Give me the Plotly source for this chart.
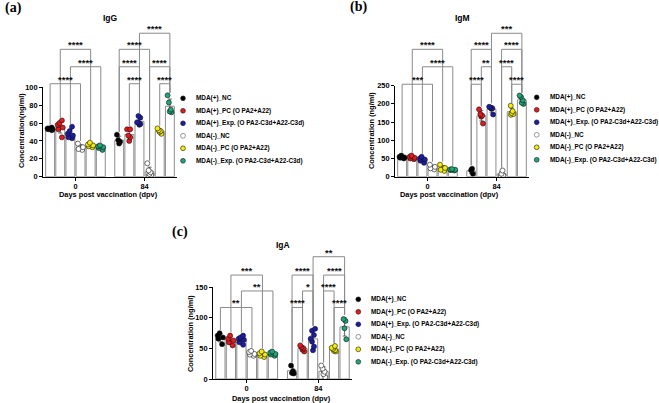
import numpy as np
import plotly.graph_objects as go

W, H = 659, 403

# ---------------- data ----------------
days = ["0", "84"]
group_names = [
    "MDA(+)_NC",
    "MDA(+)_PC (O PA2+A22)",
    "MDA(+)_Exp. (O PA2-C3d+A22-C3d)",
    "MDA(-)_NC",
    "MDA(-)_PC (O PA2+A22)",
    "MDA(-)_Exp. (O PA2-C3d+A22-C3d)",
]
group_colors = ["#000000", "#e8191c", "#1c1ca8", "#ffffff", "#f5ee00", "#1fa67a"]

# individual animals, one list per group (ng/ml)
igg_day0 = [
    [52, 53, 54, 55, 53, 54],
    [63, 60, 58, 55, 53, 44],
    [56, 51, 48, 46, 44, 43],
    [37, 33, 31, 30],
    [38, 36, 35, 34, 33],
    [35, 34, 33, 32, 30],
]
igg_day84 = [
    [47, 41, 39, 37],
    [53, 53, 46, 44, 40],
    [68, 66, 61, 60, 58, 59],
    [15, 7, 5, 3, 2, 1],
    [54, 52, 51, 50, 48],
    [91, 83, 75, 72, 73],
]
igm_day0 = [
    [58, 55, 53, 50, 52],
    [58, 55, 52, 48, 50],
    [55, 50, 47, 44, 38],
    [33, 27, 23, 20],
    [33, 24, 19, 16],
    [21, 19, 18, 17, 20],
]
igm_day84 = [
    [22, 18, 8],
    [185, 172, 168, 165, 146],
    [192, 190, 188, 187, 171],
    [17, 8, 4, 2],
    [195, 180, 175, 172, 170],
    [223, 219, 210, 203, 200],
]
iga_day0 = [
    [75, 71, 68, 66, 57],
    [71, 66, 63, 60, 55],
    [71, 68, 66, 64, 60, 56],
    [46, 44, 40, 38, 41],
    [45, 42, 40, 38, 36],
    [45, 43, 41, 38, 40],
]
iga_day84 = [
    [22, 13, 10, 9],
    [55, 52, 50, 48, 45],
    [82, 79, 72, 66, 61, 53, 47],
    [22, 17, 12, 8, 3],
    [54, 51, 49, 47, 45, 46],
    [98, 95, 83, 65],
]

igg_ticks = [0, 20, 40, 60, 80, 100]
igm_ticks = [0, 50, 100, 150, 200, 250]
iga_ticks = [0, 50, 100, 150]

# significance brackets: (day, group i, group j, level, label)
igg_brackets = [
    ("0", 0, 3, 104, "****"), ("0", 1, 4, 142.5, "****"), ("0", 2, 5, 123, "****"),
    ("84", 0, 3, 142.5, "****"), ("84", 0, 2, 123, "****"), ("84", 1, 2, 104, "****"),
    ("84", 3, 5, 123, "****"), ("84", 4, 5, 104, "****"), ("84", 2, 5, 160.5, "****"),
]
igm_brackets = [
    ("0", 0, 3, 254, "***"), ("0", 1, 4, 350, "****"), ("0", 2, 5, 302, "****"),
    ("84", 0, 1, 254, "****"), ("84", 1, 2, 302, "**"), ("84", 0, 2, 350, "****"),
    ("84", 3, 4, 302, "****"), ("84", 4, 5, 254, "****"), ("84", 3, 5, 350, "****"),
    ("84", 2, 5, 394, "***"),
]
iga_brackets = [
    ("0", 0, 3, 117, "**"), ("0", 1, 4, 170, "***"), ("0", 2, 5, 144, "**"),
    ("84", 0, 1, 117, "****"), ("84", 1, 2, 144, "*"), ("84", 0, 2, 170, "****"),
    ("84", 3, 4, 144, "****"), ("84", 4, 5, 117, "****"), ("84", 3, 5, 170, "****"),
    ("84", 2, 5, 200, "**"),
]

# ---------------- styling / layout ----------------
FONT = "Liberation Sans"
BARGAP = 0.12
GROUPGAP = 0.12
SLOT = (1 - BARGAP) / len(group_names)
XRANGE = [-0.47, 1.47]
BRACKET_COLOR = "#8a8a8a"
ROW = 12.5


def PX(x):
    return x / W


def PY(y):
    return 1 - y / H


panels = [
    dict(title="IgG", label="(a)", d0=igg_day0, d84=igg_day84, br=igg_brackets, ticks=igg_ticks,
         ytitle="Concentration(ng/ml)", xpx=(43, 177), ypx=(176.7, 87.3), top=170, gap=3,
         label_xy=(13, 8), title_xy=(110, 18), leg=(183, 194, 98.3),
         xt_xy=(108, 194), yt_xy=(21, 131)),
    dict(title="IgM", label="(b)", d0=igm_day0, d84=igm_day84, br=igm_brackets, ticks=igm_ticks,
         ytitle="Concentration (ng/ml)", xpx=(395, 529), ypx=(176.7, 85.7), top=420, gap=8,
         label_xy=(358.7, 7), title_xy=(462, 18), leg=(536.7, 548.3, 97.3),
         xt_xy=(449, 194), yt_xy=(371, 131)),
    dict(title="IgA", label="(c)", d0=iga_day0, d84=iga_day84, br=iga_brackets, ticks=iga_ticks,
         ytitle="Concentration (ng/ml)", xpx=(213, 352), ypx=(379, 287.3), top=215, gap=5,
         label_xy=(180, 232), title_xy=(282.5, 245), leg=(358.3, 369, 299.3),
         xt_xy=(281, 398.5), yt_xy=(190, 334)),
]


def sfx(n):
    return "" if n == 1 else str(n)


def tfont(size, bold=True, family=FONT, color="black"):
    d = dict(family=family, size=size, color=color)
    if bold:
        d["weight"] = "bold"
    return d


fig = go.Figure()
shapes, annotations = [], []
layout_axes = {}

for k, p in enumerate(panels, start=1):
    m, b = k, k + 3
    xa, ya = "x" + sfx(m), "y" + sfx(m)
    bxa, bya = "x" + sfx(b), "y" + sfx(b)
    per_day = {"0": p["d0"], "84": p["d84"]}
    agroup = f"panel{k}"

    for i, name in enumerate(group_names):
        pts = [p["d0"][i], p["d84"][i]]
        means = [float(np.mean(v)) for v in pts]
        sds = [float(np.std(v, ddof=1)) for v in pts]
        fig.add_trace(go.Bar(
            x=days, y=means, name=name, xaxis=xa, yaxis=ya, showlegend=False,
            offsetgroup=str(i), alignmentgroup=agroup,
            marker=dict(color="white", line=dict(color="#8c8c8c", width=1)),
            error_y=dict(type="data", array=sds, color="#444444", thickness=0.8, width=2),
        ))
    for i, (name, color) in enumerate(zip(group_names, group_colors)):
        xs = [days[0]] * len(p["d0"][i]) + [days[1]] * len(p["d84"][i])
        ys = list(p["d0"][i]) + list(p["d84"][i])
        fig.add_trace(go.Box(
            x=xs, y=ys, name=name, xaxis=xa, yaxis=ya, showlegend=False,
            offsetgroup=str(i), alignmentgroup=agroup,
            boxpoints="all", jitter=0.7, pointpos=0,
            fillcolor="rgba(0,0,0,0)", line=dict(width=0, color="rgba(0,0,0,0)"),
            marker=dict(color=color, size=5, line=dict(color="#111111", width=0.6)),
            hoverinfo="y",
        ))
    fig.add_trace(go.Scatter(x=[], y=[], xaxis=bxa, yaxis=bya, showlegend=False, hoverinfo="skip"))

    xd = [PX(p["xpx"][0]), PX(p["xpx"][1])]
    yd = [PY(p["ypx"][0]), PY(p["ypx"][1])]
    ymax = p["ticks"][-1]
    byd = [yd[0], yd[0] + (yd[1] - yd[0]) * p["top"] / ymax]

    layout_axes["xaxis" + sfx(m)] = dict(
        domain=xd, anchor=ya, type="category", categoryorder="array", categoryarray=days,
        range=XRANGE, showline=True, linecolor="black", linewidth=1, ticks="outside",
        ticklen=3, tickwidth=1, tickcolor="black", tickfont=tfont(7.4), showgrid=False,
        zeroline=False, automargin=False, fixedrange=True, ticklabelstandoff=-1,
    )
    layout_axes["yaxis" + sfx(m)] = dict(
        domain=yd, anchor=xa, range=[0, ymax], tickvals=p["ticks"], showline=True,
        linecolor="black", linewidth=1, ticks="outside", ticklen=3, tickwidth=1,
        tickcolor="black", tickfont=tfont(7.4), showgrid=False, zeroline=False,
        automargin=False, fixedrange=True,
    )
    layout_axes["xaxis" + sfx(b)] = dict(domain=xd, anchor=bya, range=XRANGE, visible=False,
                                         type="linear", fixedrange=True)
    layout_axes["yaxis" + sfx(b)] = dict(domain=byd, anchor=bxa, range=[0, p["top"]], visible=False,
                                         type="linear", fixedrange=True)

    # brackets
    for day, i, j, level, lab in p["br"]:
        di = days.index(day)
        x1 = di + (i - 2.5) * SLOT
        x2 = di + (j - 2.5) * SLOT
        data = per_day[day]

        def leg_bottom(g):
            v = data[g]
            return max(max(v), float(np.mean(v)) + float(np.std(v, ddof=1))) + p["gap"]

        y1, y2 = leg_bottom(i), leg_bottom(j)
        shapes.append(dict(
            type="path", xref=bxa, yref=bya,
            path=f"M {x1},{y1} L {x1},{level} L {x2},{level} L {x2},{y2}",
            line=dict(color=BRACKET_COLOR, width=1),
        ))
        annotations.append(dict(
            x=(x1 + x2) / 2, y=level, xref=bxa, yref=bya, text=lab, showarrow=False,
            xanchor="center", yanchor="bottom", yshift=-3,
            font=tfont(9.5, bold=True, color="#111111"),
        ))

    # panel label, title, axis titles
    annotations.append(dict(x=PX(p["label_xy"][0]), y=PY(p["label_xy"][1]), xref="paper", yref="paper",
                            text=p["label"], showarrow=False, xanchor="center", yanchor="middle",
                            font=tfont(14, family="Liberation Serif")))
    annotations.append(dict(x=PX(p["title_xy"][0]), y=PY(p["title_xy"][1]), xref="paper", yref="paper",
                            text=p["title"], showarrow=False, xanchor="center", yanchor="middle",
                            font=tfont(8.5)))
    annotations.append(dict(x=PX(p["xt_xy"][0]), y=PY(p["xt_xy"][1]), xref="paper", yref="paper",
                            text="Days post vaccination (dpv)", showarrow=False, xanchor="center",
                            yanchor="middle", font=tfont(7.4)))
    annotations.append(dict(x=PX(p["yt_xy"][0]), y=PY(p["yt_xy"][1]), xref="paper", yref="paper",
                            text=p["ytitle"], showarrow=False, xanchor="center", yanchor="middle",
                            textangle=-90, font=tfont(7.4)))

    # legend
    mx, tx, y0 = p["leg"]
    for i, (name, color) in enumerate(zip(group_names, group_colors)):
        yy = PY(y0 + i * ROW)
        shapes.append(dict(
            type="circle", xref="paper", yref="paper", xsizemode="pixel", ysizemode="pixel",
            xanchor=PX(mx), yanchor=yy, x0=-2.4, x1=2.4, y0=-2.4, y1=2.4,
            fillcolor=color,
            line=dict(color="#555555" if color == "#ffffff" else "#111111", width=0.6),
        ))
        annotations.append(dict(
            x=PX(tx), y=yy, xref="paper", yref="paper", text=name, showarrow=False,
            xanchor="left", yanchor="middle", font=tfont(6.4),
        ))

fig.update_layout(
    width=W, height=H, autosize=False,
    margin=dict(l=0, r=0, t=0, b=0),
    paper_bgcolor="white", plot_bgcolor="rgba(0,0,0,0)",
    showlegend=False,
    barmode="group", bargap=BARGAP, bargroupgap=GROUPGAP,
    boxmode="group", boxgap=BARGAP, boxgroupgap=GROUPGAP,
    font=dict(family=FONT, color="black"),
    shapes=shapes, annotations=annotations,
    **layout_axes,
)

fig.write_html("out.html", config={"displayModeBar": False},
               post_script="document.body.style.margin='0';")
